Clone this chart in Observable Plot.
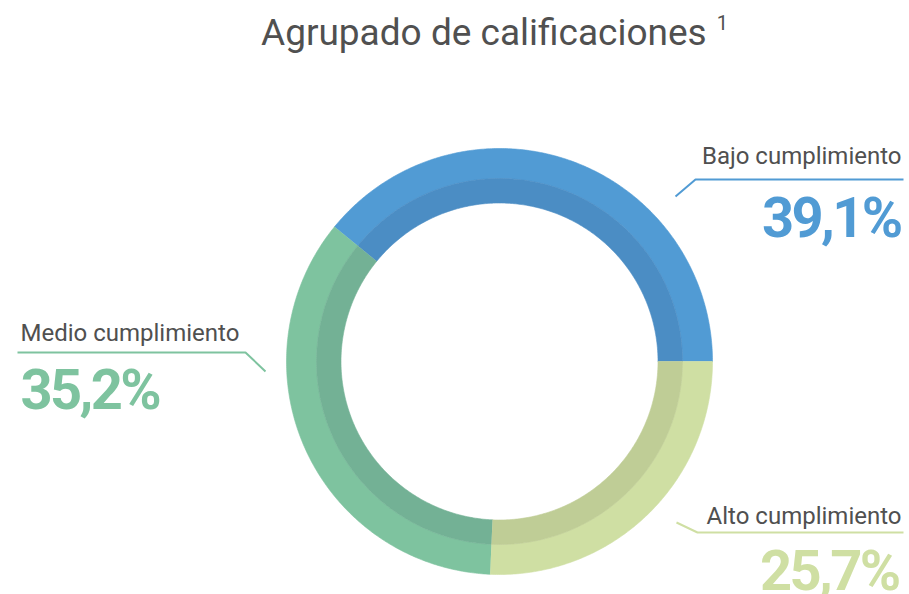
<!DOCTYPE html>
<html><head><meta charset="utf-8">
<script src="https://cdn.jsdelivr.net/npm/d3@7"></script>
<script src="https://cdn.jsdelivr.net/npm/@observablehq/plot@0.6"></script>
<style>
body{margin:0;background:#fff;font-family:Roboto,"Noto Sans",sans-serif;}
#title{position:relative;height:70px;width:909px;}
#title span.t{position:absolute;left:261px;top:13px;font-size:37px;line-height:40px;color:#505050;white-space:nowrap;}
#title span.t sup{font-size:20px;vertical-align:0;position:relative;top:-15px;margin-left:10px;}
</style></head><body>
<div id="title"><span class="t">Agrupado de calificaciones<sup>1</sup></span></div>
<div id="chart"></div>
<script>
// Data
const categories = ["Bajo cumplimiento", "Medio cumplimiento", "Alto cumplimiento"];
const values = [39.1, 35.2, 25.7];
const valueLabels = ["39,1%", "35,2%", "25,7%"];

// Styles
const colors = ["#519bd4", "#7ec39f", "#cfdfa3"];
const shades = ["#4b8dc4", "#73b195", "#bfcd96"];
const rOuter = 213, rBand = 183, rInner = 158.5;

// Label layout (pixel units around the donut centre)
const layout = [
  {name: [402, 198], value: [401, 125], anchor: "end", leader: [[176,165],[196,182],[404,182]]},
  {name: [-479, 21], value: [-479, -47], anchor: "start", leader: [[-482,9],[-254,9],[-234,-10]]},
  {name: [402, -162], value: [399, -228], anchor: "end", leader: [[177,-161],[198,-171],[404,-171]]}
];

const total = d3.sum(values);
let acc = 0;
const slices = values.map((v, i) => {
  const a0 = acc / total * 2 * Math.PI;
  acc += v;
  const a1 = acc / total * 2 * Math.PI;
  return {i, a0, a1};
});

function ring(a0, a1, r0, r1) {
  const n = Math.max(8, Math.ceil((a1 - a0) / 0.01));
  const pts = [];
  for (let k = 0; k <= n; k++) {
    const a = a0 + (a1 - a0) * k / n;
    pts.push([r1 * Math.cos(a), r1 * Math.sin(a)]);
  }
  for (let k = n; k >= 0; k--) {
    const a = a0 + (a1 - a0) * k / n;
    pts.push([r0 * Math.cos(a), r0 * Math.sin(a)]);
  }
  return pts;
}

const marks = [];
slices.forEach(s => {
  marks.push(Plot.line(ring(s.a0, s.a1, rBand, rOuter), {x: d => d[0], y: d => d[1], fill: colors[s.i], stroke: colors[s.i], strokeWidth: 0.6, curve: "linear"}));
  marks.push(Plot.line(ring(s.a0, s.a1, rInner, rBand), {x: d => d[0], y: d => d[1], fill: shades[s.i], stroke: shades[s.i], strokeWidth: 0.6, curve: "linear"}));
});
layout.forEach((l, i) => {
  marks.push(Plot.line(l.leader, {x: d => d[0], y: d => d[1], stroke: colors[i], strokeWidth: 2, strokeLinecap: "butt", strokeLinejoin: "miter"}));
  marks.push(Plot.text([categories[i]], {x: l.name[0], y: l.name[1], text: d => d, textAnchor: l.anchor, lineAnchor: "bottom", fontSize: 24, fill: "#505050"}));
  marks.push(Plot.text([valueLabels[i]], {x: l.value[0], y: l.value[1], text: d => d, textAnchor: l.anchor, lineAnchor: "bottom", fontSize: 56, fontWeight: "bold", fill: colors[i]}));
});

const chart = Plot.plot({
  width: 909, height: 524,
  margin: 0,
  x: {domain: [-499, 410], axis: null},
  y: {domain: [-233, 291], axis: null},
  style: {fontFamily: "Roboto, 'Noto Sans', sans-serif", background: "#fff", overflow: "visible"},
  marks
});
d3.select(chart).selectAll('g[font-size="56"]').style("letter-spacing", "-2.6px");
document.getElementById("chart").appendChild(chart);
</script>
</body></html>
